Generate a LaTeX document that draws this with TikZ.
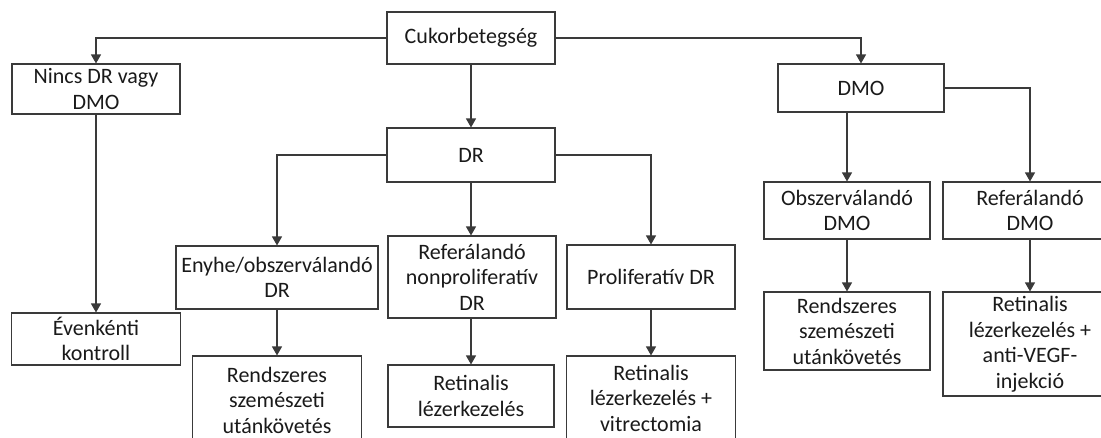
\documentclass[tikz,border=0pt]{standalone}
\usepackage{fontspec}
\setmainfont{Carlito}
\usetikzlibrary{arrows.meta}
\definecolor{linec}{HTML}{3A3A3A}
\definecolor{textc}{HTML}{1A1A1A}
\tikzset{
  box/.style={draw=linec, line width=1.1pt, rectangle, align=center, inner sep=1pt,
    text=textc, font=\fontsize{22}{25.5}\selectfont, fill=white},
  conn/.style={draw=linec, line width=1.1pt, -{Triangle[length=9pt,width=10pt]}},
}
\begin{document}
\begin{tikzpicture}[x=1pt,y=-1pt]
\useasboundingbox (0,0) rectangle (1101,437);
\clip (0,0) rectangle (1101,437);
\fill[white] (0,0) rectangle (1101,437);
% top level
\node[box, minimum width=168pt, minimum height=52pt] (cukor) at (471,38) {Cukorbetegség};
\node[box, minimum width=168pt, minimum height=50pt] (nincs) at (96,89) {Nincs DR vagy\\DMO};
\node[box, minimum width=168pt, minimum height=54pt] (dr) at (471,155) {DR};
\node[box, minimum width=166pt, minimum height=48pt] (dmo) at (861,88) {DMO};
% left branch
\node[box, minimum width=169pt, minimum height=52pt] (evenk) at (96,339) {Évenkénti\\kontroll};
% DR branch
\node[box, minimum width=202pt, minimum height=63pt] (enyhe) at (277,277.5) {Enyhe/obszerválandó\\DR};
\node[box, minimum width=168pt, minimum height=82pt] (nonprolif) at (472,277) {Referálandó\\nonproliferatív\\DR};
\node[box, minimum width=168pt, minimum height=64pt] (prolif) at (651,277) {Proliferatív DR};
\node[box, minimum width=169pt, minimum height=88pt] (rend1) at (277,400) {Rendszeres\\szemészeti\\utánkövetés};
\node[box, minimum width=166pt, minimum height=62pt] (retlez) at (471,396) {Retinalis\\lézerkezelés};
\node[box, minimum width=169pt, minimum height=84pt] (retvit) at (651,398) {Retinalis\\lézerkezelés +\\vitrectomia};
% DMO branch
\node[box, minimum width=166pt, minimum height=57pt] (obsz) at (847,210.5) {Obszerválandó\\DMO};
\node[box, minimum width=174pt, minimum height=57pt] (refdmo) at (1030,210.5) {Referálandó\\DMO};
\node[box, minimum width=166pt, minimum height=78pt] (rend2) at (847,331) {Rendszeres\\szemészeti\\utánkövetés};
\node[box, minimum width=174pt, minimum height=104pt] (retanti) at (1030,344) {Retinalis\\lézerkezelés +\\anti-VEGF-\\injekció};
% connectors
\draw[conn] (cukor.west) -| (nincs.north);
\draw[conn] (cukor.south) -- (dr.north);
\draw[conn] (cukor.east) -| (dmo.north);
\draw[conn] (nincs.south) -- (nincs.south |- evenk.north);
\draw[conn] (dr.west) -| (enyhe.north);
\draw[conn] (dr.south) -- (dr.south |- nonprolif.north);
\draw[conn] (dr.east) -| (prolif.north);
\draw[conn] (enyhe.south) -- (enyhe.south |- rend1.north);
\draw[conn] (retlez.north |- nonprolif.south) -- (retlez.north);
\draw[conn] (prolif.south) -- (prolif.south |- retvit.north);
\draw[conn] (obsz.north |- dmo.south) -- (obsz.north);
\draw[conn] (dmo.east) -| (refdmo.north);
\draw[conn] (obsz.south) -- (rend2.north);
\draw[conn] (refdmo.south) -- (retanti.north);
\end{tikzpicture}
\end{document}
